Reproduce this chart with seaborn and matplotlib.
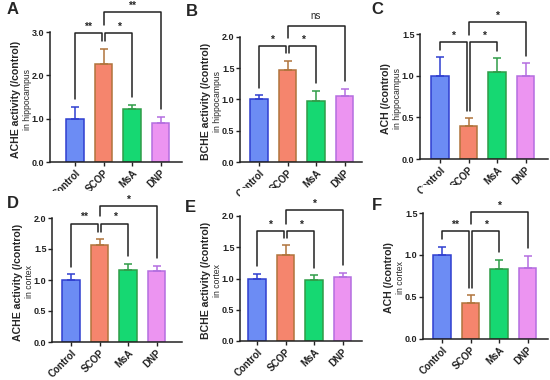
import numpy as np
import matplotlib
matplotlib.use('Agg')
import matplotlib.pyplot as plt
import seaborn as sns

# data
groups = ['Control', 'SCOP', 'MsA', 'DNP']
fill_colors = ['#6c8cf4', '#f5856d', '#16d872', '#ec94f1']
edge_colors = ['#2f3fd0', '#b0743c', '#2f9d48', '#b46ee0']

ache_hip = [1.00, 2.27, 1.23, 0.90]
ache_hip_err = [0.27, 0.34, 0.08, 0.15]
bche_hip = [1.00, 1.47, 0.98, 1.06]
bche_hip_err = [0.07, 0.15, 0.16, 0.11]
ach_hip = [1.00, 0.40, 1.04, 1.00]
ach_hip_err = [0.22, 0.09, 0.17, 0.15]
ache_ctx = [1.00, 1.56, 1.16, 1.14]
ache_ctx_err = [0.09, 0.10, 0.10, 0.09]
bche_ctx = [1.00, 1.37, 0.98, 1.02]
bche_ctx_err = [0.08, 0.16, 0.07, 0.07]
ach_ctx = [1.00, 0.43, 0.83, 0.84]
ach_ctx_err = [0.10, 0.09, 0.11, 0.15]

# significance brackets: (bar i, bar j, level, label), heights per level
sig_a = [(0, 1, 0, '**'), (1, 2, 0, '*'), (1, 3, 1, '**')]
sig_b = [(0, 1, 0, '*'), (1, 2, 0, '*'), (1, 3, 1, 'ns')]
sig_c = [(0, 1, 0, '*'), (1, 2, 0, '*'), (1, 3, 1, '*')]
sig_d = [(0, 1, 0, '**'), (1, 2, 0, '*'), (1, 3, 1, '*')]
sig_e = [(0, 1, 0, '*'), (1, 2, 0, '*'), (1, 3, 1, '*')]
sig_f = [(0, 1, 0, '**'), (1, 2, 0, '*'), (1, 3, 1, '*')]
h_a = [2.98, 3.45]
h_b = [1.86, 2.17]
h_c = [1.40, 1.64]
h_d = [1.91, 2.20]
h_e = [1.76, 2.09]
h_f = [1.28, 1.51]

sns.set_style('ticks')
plt.rcParams['font.family'] = ['Liberation Sans', 'DejaVu Sans']

W, H = 550, 380
fig = plt.figure(figsize=(5.5, 3.8), dpi=100)

# panel layout in pixels: letter, x0, x1, y of zero, y of ymax, x of first bar
panels = [
    ('A', 50, 182, 162, 32, 75, ache_hip, ache_hip_err, 3.0, 1.0, sig_a, h_a,
     'ACHE activity (/control)', 'in hippocampus'),
    ('B', 240, 362, 162, 37, 259, bche_hip, bche_hip_err, 2.0, 0.5, sig_b, h_b,
     'BCHE activity (/control)', 'in hippocampus'),
    ('C', 420, 548, 159, 34, 440, ach_hip, ach_hip_err, 1.5, 0.5, sig_c, h_c,
     'ACH (/control)', 'in hippocampus'),
    ('D', 52, 182, 342, 218, 71, ache_ctx, ache_ctx_err, 2.0, 0.5, sig_d, h_d,
     'ACHE activity (/control)', 'in cortex'),
    ('E', 240, 362, 341, 216, 257, bche_ctx, bche_ctx_err, 2.0, 0.5, sig_e, h_e,
     'BCHE activity (/control)', 'in cortex'),
    ('F', 423, 548, 339, 213, 442, ach_ctx, ach_ctx_err, 1.5, 0.5, sig_f, h_f,
     'ACH (/control)', 'in cortex'),
]
letter_pos = {'A': (7, 10), 'B': (186, 11), 'C': (371, 10),
              'D': (7, 204), 'E': (185, 207), 'F': (372, 206)}

step = 28.5
for (letter, x0, x1, yz, ytop, xc, vals, errs, ymax, tstep, sigs, hs,
     lab1, lab2) in panels:
    top = ymax * 1.22
    ax_h = (yz - ytop) * 1.22
    ax = fig.add_axes([x0 / W, 1 - yz / H, (x1 - x0) / W, ax_h / H])
    sns.barplot(x=groups, y=vals, hue=groups, palette=fill_colors, legend=False,
                ax=ax, width=0.62, linewidth=1.1, saturation=1)
    for p, ec in zip(ax.patches, edge_colors):
        p.set_edgecolor(ec)
    for k in range(4):
        ax.errorbar(k, vals[k], yerr=[[0], [errs[k]]], fmt='none',
                    ecolor=edge_colors[k], elinewidth=1.1, capsize=3, capthick=1.1)
    left = -(xc - x0) / step
    ax.set_xlim(left, left + (x1 - x0) / step)
    ax.set_ylim(0, top)
    ticks = np.arange(0, ymax + 0.001, tstep)
    ax.set_yticks(ticks)
    ax.set_yticklabels([f'{t:.1f}' for t in ticks], fontsize=6.5, fontweight='bold')
    ax.set_xticks(range(4))
    ax.set_xticklabels(groups, rotation=45, ha='right', rotation_mode='anchor',
                       fontsize=7, fontweight='bold')
    ax.set_xlabel('')
    ax.set_ylabel('')
    sns.despine(ax=ax)
    ax.spines['left'].set_bounds(0, ymax)
    for s in ['left', 'bottom']:
        ax.spines[s].set_linewidth(1.1)
        ax.spines[s].set_color('#222222')
    ax.tick_params(axis='both', length=3, width=1.0, pad=1, colors='#222222')

    # brackets
    pad = 0.06 * ymax
    low_ends = {e for (i, j, lv, _) in sigs if lv == 0 for e in (i, j)}
    for (i, j, lv, lab) in sigs:
        h = hs[lv]
        xi, xj = i, j
        if lv == 0:
            if i == 1:
                xi = i + 0.07
            if j == 1:
                xj = j - 0.07
        bi = errs[i] + vals[i]
        bj = errs[j] + vals[j]
        if lv == 1:
            if i in low_ends:
                bi = hs[0]
            if j in low_ends:
                bj = hs[0]
        ax.plot([xi, xi, xj, xj], [bi + pad, h, h, bj + pad], color='#222222',
                lw=1.1, clip_on=False)
        if lab == 'ns':
            ax.text((xi + xj) / 2, h + 0.04 * ymax, lab, ha='center', va='bottom',
                    fontsize=7, clip_on=False)
        else:
            ax.text((xi + xj) / 2, h + 0.01 * ymax, lab, ha='center', va='bottom',
                    fontsize=7.5, fontweight='bold', clip_on=False)

    yc = 1 - ((yz + ytop) / 2 + 2) / H
    fig.text((x0 - 34) / W, yc, lab1, rotation=90, ha='center', va='center',
             fontsize=7.6, fontweight='bold')
    fig.text((x0 - 22.5) / W, yc, lab2, rotation=90, ha='center', va='center',
             fontsize=6.2)
    lx, ly = letter_pos[letter]
    fig.text(lx / W, 1 - ly / H, letter, ha='left', va='center',
             fontsize=12, fontweight='bold')

fig.savefig('out.png', dpi=100)
